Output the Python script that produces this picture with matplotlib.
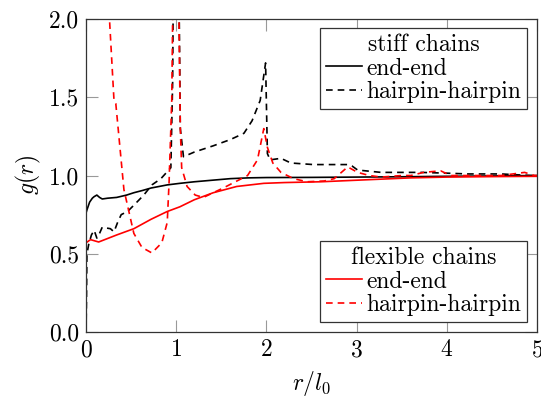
import matplotlib
matplotlib.use('Agg')
import matplotlib.pyplot as plt

plt.rcParams['font.family'] = 'serif'
plt.rcParams['font.serif'] = ['cmr10']
plt.rcParams['mathtext.fontset'] = 'cm'
plt.rcParams['axes.formatter.use_mathtext'] = True
plt.rcParams['font.size'] = 17

# stiff chains, end-end
x_se = [0, 0.01, 0.04, 0.07, 0.09, 0.12, 0.15, 0.18, 0.24, 0.34, 0.45, 0.53, 0.63, 0.72,
        0.9, 1.04, 1.2, 1.4, 1.6, 1.8, 2.0, 2.5, 3.0, 3.5, 4.0, 4.5, 5.0]
y_se = [0.76, 0.78, 0.83, 0.855, 0.865, 0.875, 0.86, 0.85, 0.855, 0.86, 0.875, 0.89, 0.905, 0.92,
        0.94, 0.95, 0.96, 0.97, 0.98, 0.985, 0.987, 0.988, 0.99, 0.992, 0.995, 0.997, 1.0]

# stiff chains, hairpin-hairpin
x_sh = [0.0, 0.005, 0.01, 0.03, 0.06, 0.09, 0.12, 0.15, 0.18, 0.22, 0.27, 0.31, 0.35, 0.39,
        0.46, 0.53, 0.64, 0.73, 0.83, 0.94, 0.96, 0.975, 0.99, 1.01, 1.03, 1.045, 1.08, 1.2,
        1.41, 1.6, 1.75, 1.84, 1.93, 1.99, 2.01, 2.04, 2.16, 2.27, 2.52, 2.9, 2.95, 3.01,
        3.27, 3.57, 3.71, 4.0, 4.23, 4.6, 4.93, 5.0]
y_sh = [0.0, 0.2, 0.5, 0.56, 0.62, 0.65, 0.6, 0.63, 0.67, 0.665, 0.66, 0.64, 0.7, 0.75,
        0.77, 0.81, 0.875, 0.94, 0.98, 1.05, 1.6, 2.8, 3.5, 3.2, 2.2, 1.3, 1.12, 1.15,
        1.19, 1.23, 1.27, 1.35, 1.48, 1.72, 1.14, 1.1, 1.11, 1.08, 1.07, 1.07, 1.06, 1.035,
        1.02, 1.02, 1.02, 1.015, 1.01, 1.01, 1.0, 1.0]

# flexible chains, end-end
x_fe = [0, 0.05, 0.14, 0.34, 0.53, 0.72, 0.9, 1.04, 1.2, 1.41, 1.67, 1.97, 2.2, 2.6,
        3.0, 3.6, 4.0, 4.5, 5.0]
y_fe = [0.57, 0.59, 0.575, 0.62, 0.66, 0.72, 0.77, 0.8, 0.845, 0.89, 0.93, 0.95, 0.955, 0.96,
        0.97, 0.985, 0.99, 0.993, 0.995]

# flexible chains, hairpin-hairpin
x_fh = [0.15, 0.2, 0.26, 0.31, 0.33, 0.42, 0.53, 0.62, 0.73, 0.84, 0.9, 0.92, 0.95, 0.96,
        0.99, 1.02, 1.03, 1.045, 1.06, 1.12, 1.21, 1.3, 1.52, 1.79, 1.9, 1.97, 2.01, 2.07,
        2.16, 2.3, 2.45, 2.64, 2.75, 2.9, 3.01, 3.14, 3.27, 3.5, 3.6, 3.74, 3.93, 4.04,
        4.6, 4.86, 4.97, 5.0]
y_fh = [3.5, 2.7, 2.0, 1.48, 1.46, 0.91, 0.63, 0.54, 0.505, 0.57, 0.7, 0.95, 1.48, 2.0,
        4.0, 3.0, 2.0, 1.3, 1.05, 0.93, 0.875, 0.86, 0.92, 1.0, 1.1, 1.3, 1.18, 1.08,
        1.02, 0.98, 0.96, 0.965, 0.98, 1.055, 1.02, 1.0, 0.99, 1.0, 1.0, 1.02, 1.03, 1.0,
        1.0, 1.02, 1.0, 1.0]

fig = plt.figure(figsize=(5.41, 3.98), dpi=100)
ax = fig.add_axes([0.159, 0.166, 0.834, 0.786])

dash = (0, (4, 3))
l1, = ax.plot(x_se, y_se, color='black', lw=1.2, label='end-end')
l2, = ax.plot(x_sh, y_sh, color='black', lw=1.2, ls=dash, label='hairpin-hairpin')
l3, = ax.plot(x_fe, y_fe, color='red', lw=1.2, label='end-end')
l4, = ax.plot(x_fh, y_fh, color='red', lw=1.2, ls=dash, label='hairpin-hairpin')

ax.set_xlim(0, 5)
ax.set_ylim(0, 2)
ax.set_xticks([0, 1, 2, 3, 4, 5])
ax.set_yticks([0, 0.5, 1.0, 1.5, 2.0])
ax.set_yticklabels(['0.0', '0.5', '1.0', '1.5', '2.0'])
ax.tick_params(direction='in', top=True, right=True, length=8.5, width=0.8,
               color='#999999', pad=5)
for s in ax.spines.values():
    s.set_color('#333333')
    s.set_linewidth(0.9)

ax.set_xlabel('$r/l_0$', labelpad=6)
ax.set_ylabel('$g(r)$', labelpad=4)

opts = dict(borderaxespad=0, fancybox=False, framealpha=1, edgecolor='#333333',
            handlelength=1.5, handletextpad=0.2, borderpad=0.25, labelspacing=0.05,
            fontsize=17, title_fontsize=17)
leg1 = ax.legend(handles=[l1, l2], title='stiff chains', loc='upper right',
                 bbox_to_anchor=(0.978, 0.971), **opts)
leg1.get_frame().set_linewidth(0.9)
ax.add_artist(leg1)
leg2 = ax.legend(handles=[l3, l4], title='flexible chains', loc='lower right',
                 bbox_to_anchor=(0.978, 0.032), **opts)
leg2.get_frame().set_linewidth(0.9)

fig.savefig('out.png', dpi=100)
